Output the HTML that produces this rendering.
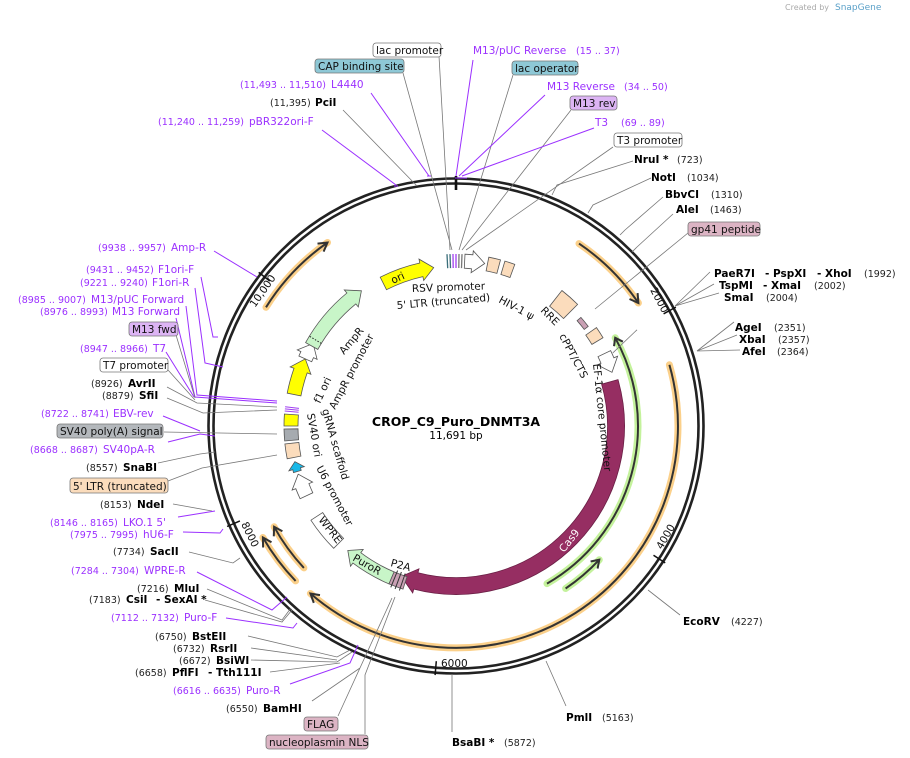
<!DOCTYPE html>
<html><head><meta charset="utf-8">
<style>
html,body{margin:0;padding:0;background:#fff;}
svg{display:block;font-family:"DejaVu Sans","Liberation Sans",sans-serif;}
.p{fill:#9b30ff;font-size:10.5px}
.pn{fill:#9b30ff;font-size:9.5px}
.b{fill:#000;font-size:10.5px;font-weight:bold}
.n{fill:#222;font-size:9.5px}
.t{fill:#111;font-size:10.5px}
.ln{stroke:#777;stroke-width:0.8;fill:none}
.lp{stroke:#9b30ff;stroke-width:1;fill:none}
.box{stroke:#777;stroke-width:0.8}
</style></head><body>
<svg id="s" width="910" height="758" viewBox="0 0 910 758" xmlns="http://www.w3.org/2000/svg">
<text x="785" y="10" font-size="8" fill="#aaa">Created by</text><text x="835" y="10" font-size="9" fill="#5aa0c8">SnapGene</text>
<g id="geo"></g>
<g>
<path class="ln" d="M439,56 L450,250 M403,73 L452,250 M513,75 L459,250 M571,110 L462,250 M613,147 L466,250"/>
<path class="lp" d="M473,60 L456,176 M545,95 L459,176 M594,128 L462,176 M371,93 L429,176 M322,130 L396,185"/>
<path class="lp" d="M455,178 L467,178 M427,176 L431,176 M394,186 L398,186" stroke-width="2.5"/>
<path class="ln" d="M343,110 L417,186"/>
<path class="ln" d="M633,161 L557,185 L552,195 M651,178 L593,205 L588,213 M663,197 L625,230 L620,235 M673,214 L637,247 L632,252 M688,233 L595,309 M710,272 L675,306 L714,284 M719,293 L675,306 M734,322 L697,351 L737,335 M740,350 L697,351 M680,615 L648,590 M566,706 L546,661 M452,674 L452,732"/>
<path class="lp" d="M214,251 L257,277 M201,277 L213,337 L218,337 M195,288 L205,363 L223,367 M186,306 L197,395 L277,401 M176,318 L195,397 L277,403 M166,352 L194,397 M163,416 L200,431 M168,442 L200,434 L215,436"/>
<path class="ln" d="M176,335 L195,398 M168,370 L195,400 M167,387 L197,403 L277,407 M167,398 L203,413 L277,410 M164,432 L277,434 M158,463 L200,454 L215,452 M168,481 L202,468 L277,455"/>
<path class="ln" d="M173,504 L212,511 M189,552 L233,563 L240,558 M207,589 L282,620 L291,608 M205,600 L282,622 L292,610 M248,636 L337,657 L350,650 M251,648 L337,660 M251,660 L337,662 L352,652 M270,672 L340,663 M312,701 L360,668 M338,716 L392,598 M365,734 L365,675 L395,597"/>
<path class="lp" d="M178,517 L215,511 M183,532 L220,533 L223,529 M197,572 L272,610 L287,597 M226,618 L293,628 L297,623 M290,684 L350,663 L358,645"/>
</g>
<rect class="box" x="373" y="43" width="68" height="14" rx="3" fill="#fff"/><text class="t" x="376" y="54">lac promoter</text>
<rect class="box" x="315" y="59" width="89" height="14" rx="3" fill="#8ec8d6"/><text class="t" x="318" y="70">CAP binding site</text>
<text class="p" x="473" y="54">M13/pUC Reverse</text><text class="pn" x="576" y="54">(15 .. 37)</text>
<rect class="box" x="512" y="61" width="66" height="14" rx="3" fill="#8ec8d6"/><text class="t" x="515" y="72">lac operator</text>
<text class="pn" x="240" y="88">(11,493 .. 11,510)</text><text class="p" x="331" y="88">L4440</text>
<text class="p" x="547" y="90">M13 Reverse</text><text class="pn" x="624" y="90">(34 .. 50)</text>
<text class="n" x="270" y="106">(11,395)</text><text class="b" x="315" y="106">PciI</text>
<rect class="box" x="570" y="96" width="47" height="14" rx="3" fill="#dcb4f4"/><text class="t" x="573" y="107">M13 rev</text>
<text class="pn" x="158" y="125">(11,240 .. 11,259)</text><text class="p" x="249" y="125">pBR322ori-F</text>
<text class="p" x="595" y="126">T3</text><text class="pn" x="621" y="126">(69 .. 89)</text>
<rect class="box" x="614" y="133" width="68" height="14" rx="3" fill="#fff"/><text class="t" x="617" y="144">T3 promoter</text>
<text class="b" x="634" y="163">NruI *</text><text class="n" x="677" y="163">(723)</text>
<text class="b" x="651" y="181">NotI</text><text class="n" x="687" y="181">(1034)</text>
<text class="b" x="665" y="198">BbvCI</text><text class="n" x="711" y="198">(1310)</text>
<text class="b" x="676" y="213">AleI</text><text class="n" x="710" y="213">(1463)</text>
<rect class="box" x="688" y="222" width="72" height="14" rx="3" fill="#dcb4c4"/><text class="t" x="691" y="233">gp41 peptide</text>
<text class="b" x="714" y="277">PaeR7I</text><text class="b" x="765" y="277">- PspXI</text><text class="b" x="817" y="277">- XhoI</text><text class="n" x="864" y="277">(1992)</text>
<text class="b" x="719" y="289">TspMI</text><text class="b" x="763" y="289">- XmaI</text><text class="n" x="814" y="289">(2002)</text>
<text class="b" x="724" y="301">SmaI</text><text class="n" x="766" y="301">(2004)</text>
<text class="b" x="735" y="331">AgeI</text><text class="n" x="774" y="331">(2351)</text>
<text class="b" x="739" y="343">XbaI</text><text class="n" x="778" y="343">(2357)</text>
<text class="b" x="742" y="355">AfeI</text><text class="n" x="777" y="355">(2364)</text>
<text class="b" x="683" y="625">EcoRV</text><text class="n" x="731" y="625">(4227)</text>
<text class="b" x="566" y="721">PmlI</text><text class="n" x="602" y="721">(5163)</text>
<text class="b" x="452" y="746">BsaBI *</text><text class="n" x="504" y="746">(5872)</text>
<text class="pn" x="98" y="251">(9938 .. 9957)</text><text class="p" x="171" y="251">Amp-R</text>
<text class="pn" x="86" y="273">(9431 .. 9452)</text><text class="p" x="158" y="273">F1ori-F</text>
<text class="pn" x="80" y="286">(9221 .. 9240)</text><text class="p" x="152" y="286">F1ori-R</text>
<text class="pn" x="18" y="303">(8985 .. 9007)</text><text class="p" x="91" y="303">M13/pUC Forward</text>
<text class="pn" x="40" y="315">(8976 .. 8993)</text><text class="p" x="112" y="315">M13 Forward</text>
<rect class="box" x="129" y="322" width="49" height="14" rx="3" fill="#dcb4f4"/><text class="t" x="132" y="333">M13 fwd</text>
<text class="pn" x="80" y="352">(8947 .. 8966)</text><text class="p" x="153" y="352">T7</text>
<rect class="box" x="100" y="358" width="68" height="14" rx="3" fill="#fff"/><text class="t" x="103" y="369">T7 promoter</text>
<text class="n" x="91" y="387">(8926)</text><text class="b" x="128" y="387">AvrII</text>
<text class="n" x="102" y="399">(8879)</text><text class="b" x="139" y="399">SfiI</text>
<text class="pn" x="41" y="417">(8722 .. 8741)</text><text class="p" x="113" y="417">EBV-rev</text>
<rect class="box" x="57" y="424" width="106" height="14" rx="3" fill="#b4b8bc"/><text class="t" x="60" y="435">SV40 poly(A) signal</text>
<text class="pn" x="30" y="453">(8668 .. 8687)</text><text class="p" x="103" y="453">SV40pA-R</text>
<text class="n" x="86" y="471">(8557)</text><text class="b" x="123" y="471">SnaBI</text>
<rect class="box" x="70" y="478" width="98" height="15" rx="3" fill="#fbdcbc"/><text class="t" x="73" y="490">5' LTR (truncated)</text>
<text class="n" x="100" y="508">(8153)</text><text class="b" x="137" y="508">NdeI</text>
<text class="pn" x="50" y="526">(8146 .. 8165)</text><text class="p" x="123" y="526">LKO.1 5'</text>
<text class="pn" x="70" y="538">(7975 .. 7995)</text><text class="p" x="143" y="538">hU6-F</text>
<text class="n" x="113" y="555">(7734)</text><text class="b" x="150" y="555">SacII</text>
<text class="pn" x="71" y="574">(7284 .. 7304)</text><text class="p" x="144" y="574">WPRE-R</text>
<text class="n" x="137" y="592">(7216)</text><text class="b" x="174" y="592">MluI</text>
<text class="n" x="89" y="603">(7183)</text><text class="b" x="126" y="603">CsiI</text><text class="b" x="156" y="603">- SexAI *</text>
<text class="pn" x="111" y="621">(7112 .. 7132)</text><text class="p" x="184" y="621">Puro-F</text>
<text class="n" x="155" y="640">(6750)</text><text class="b" x="192" y="640">BstEII</text>
<text class="n" x="173" y="652">(6732)</text><text class="b" x="210" y="652">RsrII</text>
<text class="n" x="179" y="664">(6672)</text><text class="b" x="216" y="664">BsiWI</text>
<text class="n" x="135" y="676">(6658)</text><text class="b" x="172" y="676">PflFI</text><text class="b" x="208" y="676">- Tth111I</text>
<text class="pn" x="173" y="694">(6616 .. 6635)</text><text class="p" x="246" y="694">Puro-R</text>
<text class="n" x="226" y="712">(6550)</text><text class="b" x="263" y="712">BamHI</text>
<rect class="box" x="304" y="717" width="34" height="14" rx="3" fill="#dcb4c4"/><text class="t" x="307" y="728">FLAG</text>
<rect class="box" x="266" y="735" width="102" height="14" rx="3" fill="#dcb4c4"/><text class="t" x="269" y="746">nucleoplasmin NLS</text>
<text class="t" font-size="10" transform="translate(255,308) rotate(-55)">10,000</text>
<text class="t" font-size="10" transform="translate(650,290) rotate(62)">2000</text>
<text class="t" font-size="10" transform="translate(662,550) rotate(-60)">4000</text>
<text class="t" font-size="10" x="441" y="667">6000</text>
<text class="t" font-size="10" transform="translate(241,524) rotate(64)">8000</text>
<text x="456" y="426" text-anchor="middle" font-weight="bold" font-size="12.5">CROP_C9_Puro_DNMT3A</text>
<text x="456" y="439" text-anchor="middle" font-size="10.5">11,691 bp</text>
<text class="t" transform="translate(393,284) rotate(-25)">ori</text>
<text class="t" transform="translate(412,292) rotate(-2)">RSV promoter</text>
<text class="t" transform="translate(397,309) rotate(-5)">5' LTR (truncated)</text>
<text class="t" transform="translate(498,302) rotate(28)">HIV-1 ψ</text>
<text class="t" transform="translate(540,311) rotate(45)">RRE</text>
<text class="t" transform="translate(559,336) rotate(62)">cPPT/CTS</text>
<text class="t" transform="translate(593,364) rotate(84)">EF-1α core promoter</text>
<text fill="#fff" font-size="10.5" transform="translate(564,553) rotate(-52)">Cas9</text>
<text class="t" transform="translate(390,566) rotate(15)">P2A</text>
<text class="t" transform="translate(352,560) rotate(30)">PuroR</text>
<text class="t" transform="translate(318,520) rotate(52)">WPRE</text>
<text class="t" transform="translate(316,468) rotate(62)">U6 promoter</text>
<text class="t" transform="translate(322,410) rotate(74)">gRNA scaffold</text>
<text class="t" transform="translate(307,414) rotate(80)">SV40 ori</text>
<text class="t" transform="translate(320,404) rotate(-65)">f1 ori</text>
<text class="t" transform="translate(335,410) rotate(-62)">AmpR promoter</text>
<text class="t" transform="translate(344,355) rotate(-50)">AmpR</text>
</svg>
<script>
(function(){
var C=[456,426],g=document.getElementById('geo'),out='';
function P(r,a){a=a*Math.PI/180;return [C[0]+r*Math.sin(a),C[1]-r*Math.cos(a)];}
function f(p){return p[0].toFixed(1)+','+p[1].toFixed(1);}
function A(r,a1,a2){var l=Math.abs(a2-a1)>180?1:0,sw=a2>a1?1:0;return 'A'+r+','+r+' 0 '+l+','+sw+' '+f(P(r,a2));}
function arc(r,a1,a2){return 'M'+f(P(r,a1))+A(r,a1,a2);}
function add(s){out+=s;}
function feat(r,w,a1,a2,dir,fill,stroke){
  var ri=r-w/2,ro=r+w/2,d;
  if(dir==0){d='M'+f(P(ro,a1))+A(ro,a1,a2)+'L'+f(P(ri,a2))+A(ri,a2,a1)+'Z';}
  else{var hd=(w*0.9)/r*180/Math.PI;
    if(dir==1){var b=a2-hd;d='M'+f(P(ro,a1))+A(ro,a1,b)+'L'+f(P(ro+4,b))+'L'+f(P(r,a2))+'L'+f(P(ri-4,b))+'L'+f(P(ri,b))+A(ri,b,a1)+'Z';}
    else{var b=a1+hd;d='M'+f(P(ro,a2))+A(ro,a2,b)+'L'+f(P(ro+4,b))+'L'+f(P(r,a1))+'L'+f(P(ri-4,b))+'L'+f(P(ri,b))+A(ri,b,a2)+'Z';}}
  add('<path d="'+d+'" fill="'+fill+'" stroke="'+(stroke||'#555')+'" stroke-width="0.8"/>');
}
function prim(r,a1,a2,dir,glow){
  add('<path d="'+arc(r,a1,a2)+'" stroke="'+glow+'" stroke-width="7" fill="none" stroke-linecap="round"/>');
  add('<path d="'+arc(r,a1,a2)+'" stroke="#333" stroke-width="2" fill="none"/>');
  var t=dir==1?a2:a1,bb=dir==1?a2-2.2:a1+2.2;
  add('<path d="M'+f(P(r+5,bb))+'L'+f(P(r,t))+'L'+f(P(r-5,bb))+'" stroke="#333" stroke-width="2" fill="none"/>');
}
add('<circle cx="456" cy="426" r="247.5" fill="none" stroke="#222" stroke-width="2.6"/>');
add('<circle cx="456" cy="426" r="242.5" fill="none" stroke="#222" stroke-width="2.6"/>');
[[0,2.6],[61.6,1.5],[123.2,1.5],[184.8,1.5],[246.3,1.5],[307.9,1.5]].forEach(function(t){add('<path d="M'+f(P(236,t[0]))+'L'+f(P(250,t[0]))+'" stroke="#111" stroke-width="'+t[1]+'"/>');});
prim(224,302,325,1,'#fbd08a');prim(220,34,56,1,'#fbd08a');prim(222,74,221,1,'#fbd08a');
prim(223,226,240,1,'#fbd08a');prim(208,227,241,1,'#fbd08a');
prim(182,61,150,-1,'#c4f29c');prim(196,133,146,-1,'#c4f29c');
feat(160,17,74,200,1,'#962e62','#6a1f45');
feat(165,13,203,221,1,'#c8f5c8');
feat(165,13,198,203,0,'#c9a0b4');
[199,200.5,202].forEach(function(a){add('<path d="M'+f(P(156,a))+'L'+f(P(174,a))+'" stroke="#333" stroke-width="1"/>');});
feat(166,14,225,237,0,'#fff');
feat(165,14,245,253,1,'#fff');
feat(165,8,254,257.5,1,'#18b8e8');
feat(165,14,259,264,0,'#fbdcbc');
feat(165,14,265,269,0,'#a6abb0');
feat(165,14,270,274,0,'#ffff00');
[275,275.7,276.4].forEach(function(a){add('<path d="M'+f(P(158,a))+'L'+f(P(172,a))+'" stroke="#a040f0" stroke-width="1"/>');});
feat(165,14,281,294,1,'#ffff00');
feat(165,14,294,300,1,'#fff');
feat(165,14,299,325,1,'#c8f5c8');
add('<path d="M'+f(P(158,301.5))+'L'+f(P(172,301.5))+'" stroke="#222" stroke-dasharray="1.5,1.5"/>');
feat(160,14,333,352,1,'#ffff00');
[357,358,359,0,1,2].forEach(function(a,i){add('<path d="M'+f(P(158,a))+'L'+f(P(172,a))+'" stroke="'+(i<2?'#3a6e7a':(i<4?'#a040f0':'#777'))+'" stroke-width="1.3"/>');});
feat(165,14,3,10,1,'#fff');
feat(165,14,11,15,0,'#fbdcbc');
feat(165,14,16.5,20,0,'#fbdcbc');
feat(162,20,38,45,0,'#fbdcbc');
feat(163,5,49,53,0,'#c9a0b4');
feat(165,13,55,59,0,'#fbdcbc');
feat(165,14,64,71,1,'#fff');
add('<path d="M'+f(P(173,65))+'L'+f(P(205,62))+'" class="ln"/>');
g.innerHTML=out;
})();
</script>
</body></html>
